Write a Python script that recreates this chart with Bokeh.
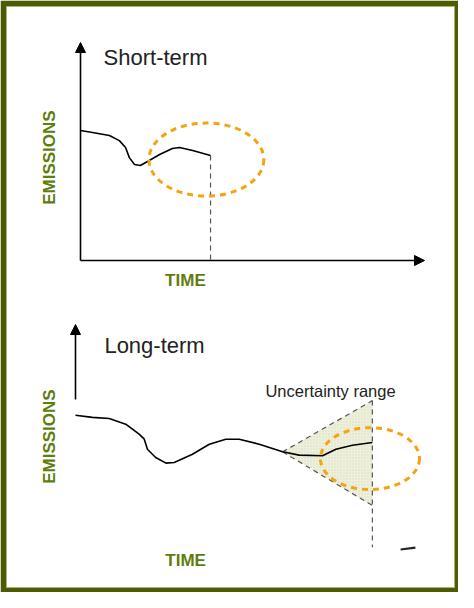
from bokeh.plotting import figure
from bokeh.models import Range1d, Arrow, NormalHead, Label
from bokeh.embed import file_html
from bokeh.resources import INLINE

# ---------------- data (time / emissions in arbitrary units) ----------------
short_time = [0.00, 0.35, 0.84, 1.13, 1.31, 1.42, 1.57, 1.74, 2.00, 2.30, 2.67, 2.88, 3.26, 3.78]
short_emissions = [5.96, 5.87, 5.73, 5.50, 5.18, 4.72, 4.40, 4.36, 4.59, 4.86, 5.14, 5.18, 5.05, 4.82]
short_target_time = [3.66]
short_target_emissions = [4.63]
short_target_width = [3.34]
short_target_height = [3.35]

long_time = [0.00, 0.49, 0.98, 1.46, 1.85, 2.00, 2.09, 2.33, 2.63, 2.87, 3.40, 3.89,
             4.37, 4.76, 5.34, 6.02, 6.50, 7.18, 7.57, 8.05, 8.63]
long_emissions = [6.16, 6.06, 6.01, 5.75, 5.29, 5.06, 4.60, 4.22, 3.96, 3.99, 4.37, 4.83,
                  5.06, 5.06, 4.83, 4.48, 4.33, 4.30, 4.60, 4.78, 4.91]
uncertainty_time = [6.02, 8.63, 8.63]
uncertainty_emissions = [4.48, 6.83, 2.02]
long_target_time = [8.56]
long_target_emissions = [4.17]
long_target_width = [2.88]
long_target_height = [2.84]

titles = ["Short-term", "Long-term"]
y_label = "EMISSIONS"
x_label = "TIME"
range_label = "Uncertainty range"

# ---------------- styles / layout ----------------
BORDER = "#4d5c02"
LABEL_GREEN = "#5f7d0f"
ORANGE = "#f2a413"
GREY = "#555555"
FONT = "Liberation Sans"
W, H = 458, 592
# frame in page pixels: x 14..462, y 14..595
FX0, FX1, FY0, FY1 = 14, 462, 14, 595
kx, ky = 34.4, 21.8           # px per time unit, px per emission unit
TOP_O = (88, 268)             # page px of the short-term axis origin
BOT_O = (83, 557)             # page px of the long-term axis origin


def xr(o):
    return Range1d((FX0 - o[0]) / kx, (FX1 - o[0]) / kx)


def yr(o):
    return Range1d((o[1] - FY1) / ky, (o[1] - FY0) / ky)


p = figure(width=W, height=H, x_range=xr(TOP_O), y_range=yr(TOP_O),
           output_backend="svg", toolbar_location=None,
           min_border_left=6, min_border_right=4, min_border_top=6, min_border_bottom=5)
p.extra_x_ranges = {"lt": xr(BOT_O)}
p.extra_y_ranges = {"le": yr(BOT_O)}
p.axis.visible = False
p.grid.visible = False
p.outline_line_color = "#a9b37a"
p.outline_line_width = 1
p.background_fill_color = "white"
p.border_fill_color = BORDER

LT = dict(x_range_name="lt", y_range_name="le")


def head():
    return NormalHead(size=10, fill_color="black", line_color="black")


# ---- short-term panel ----
p.add_layout(Arrow(end=head(), x_start=0, y_start=0, x_end=0, y_end=10,
                   line_color="black", line_width=1.6))
p.add_layout(Arrow(end=head(), x_start=0, y_start=0, x_end=10, y_end=0,
                   line_color="black", line_width=1.6))
p.segment(x0=[short_time[-1]], y0=[short_emissions[-1]], x1=[short_time[-1]], y1=[0],
          line_color=GREY, line_dash="5 4", line_width=1.2)
p.line(short_time, short_emissions, line_color="black", line_width=1.6)
p.ellipse(x=short_target_time, y=short_target_emissions,
          width=short_target_width, height=short_target_height,
          fill_color=None, line_color=ORANGE, line_width=3, line_dash="6 5")

p.add_layout(Label(x=0.67, y=9.31, text=titles[0], text_font=FONT, text_font_size="22px",
                   text_color="#222222", text_align="left", text_baseline="alphabetic"))
p.add_layout(Label(x=-0.90, y=4.72, text=y_label, angle=1.5708, text_font=FONT,
                   text_font_size="17px", text_font_style="bold", text_color=LABEL_GREEN,
                   text_align="center", text_baseline="middle"))
p.add_layout(Label(x=3.05, y=-0.92, text=x_label, text_font=FONT,
                   text_font_size="17px", text_font_style="bold", text_color=LABEL_GREEN,
                   text_align="center", text_baseline="middle"))

# ---- long-term panel ----
p.patch(uncertainty_time, uncertainty_emissions, fill_color="#eef0dc", line_color=None,
        hatch_pattern="dot", hatch_color="#d2d6b8", hatch_scale=3, hatch_alpha=0.7, **LT)
p.line([uncertainty_time[0], uncertainty_time[1]], [uncertainty_emissions[0], uncertainty_emissions[1]],
       line_color=GREY, line_dash="5 4", line_width=1.2, **LT)
p.line([uncertainty_time[0], uncertainty_time[2]], [uncertainty_emissions[0], uncertainty_emissions[2]],
       line_color=GREY, line_dash="5 4", line_width=1.2, **LT)
p.segment(x0=[uncertainty_time[1]], y0=[uncertainty_emissions[1]], x1=[uncertainty_time[1]], y1=[0.1],
          line_color=GREY, line_dash="5 4", line_width=1.2, **LT)
p.add_layout(Arrow(end=head(), x_start=0, y_start=6.88, x_end=0, y_end=10.32,
                   line_color="black", line_width=1.6, **LT))
p.segment(x0=[9.45], y0=[0.0], x1=[9.88], y1=[0.09], line_color="#222222", line_width=2.2, **LT)
p.line(long_time, long_emissions, line_color="black", line_width=1.6, **LT)
p.ellipse(x=long_target_time, y=long_target_emissions,
          width=long_target_width, height=long_target_height,
          fill_color=None, line_color=ORANGE, line_width=3, line_dash="6 5", **LT)

p.add_layout(Label(x=0.84, y=9.36, text=titles[1], text_font=FONT, text_font_size="22px",
                   text_color="#222222", text_align="left", text_baseline="alphabetic", **LT))
p.add_layout(Label(x=5.52, y=7.25, text=range_label, text_font=FONT, text_font_size="16.5px",
                   text_color="#222222", text_align="left", text_baseline="alphabetic", **LT))
p.add_layout(Label(x=-0.76, y=5.18, text=y_label, angle=1.5708, text_font=FONT,
                   text_font_size="17px", text_font_style="bold", text_color=LABEL_GREEN,
                   text_align="center", text_baseline="middle", **LT))
p.add_layout(Label(x=3.20, y=-0.50, text=x_label, text_font=FONT,
                   text_font_size="17px", text_font_style="bold", text_color=LABEL_GREEN,
                   text_align="center", text_baseline="middle", **LT))

open("out.html", "w").write(file_html(p, INLINE))
